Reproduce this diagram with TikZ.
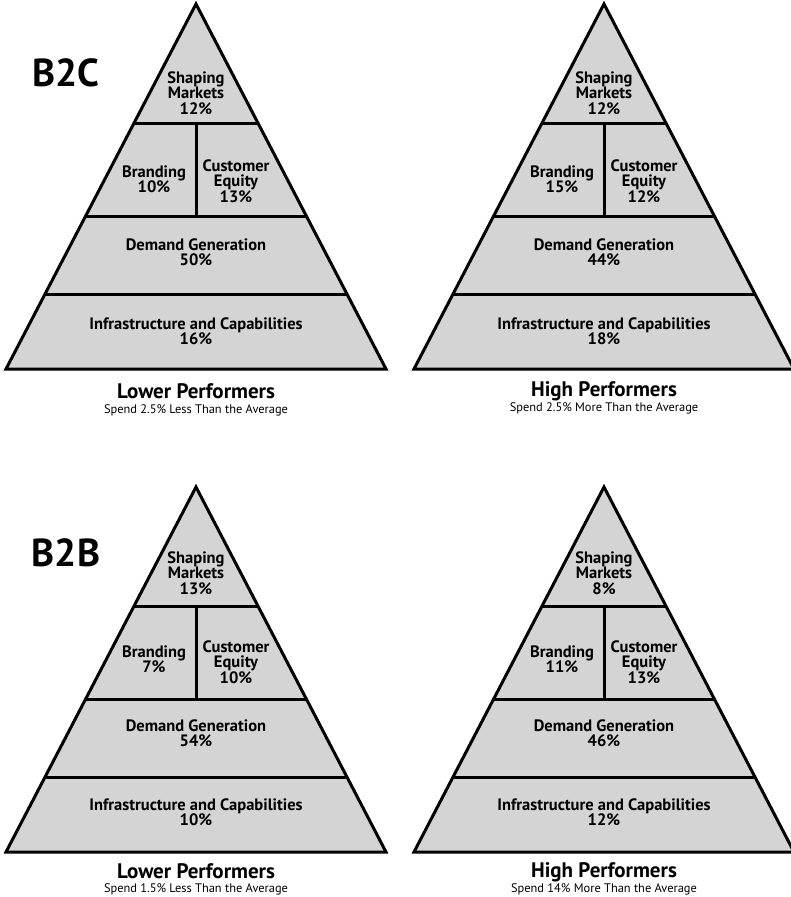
\documentclass[tikz,border=0pt]{standalone}
\usepackage{fontspec}
\setmainfont{PT Sans}
\usetikzlibrary{positioning}

\tikzset{
  pyr/.style={draw=black, fill=black!17, line width=3pt},
  sep/.style={draw=black, line width=3pt},
  lbl/.style={font=\fontsize{16.5}{15.5}\selectfont\bfseries, align=center, inner sep=0pt},
  ttl/.style={font=\fontsize{21}{22}\selectfont\bfseries, inner sep=0pt, anchor=base},
  sub/.style={font=\fontsize{12.4}{13}\selectfont, inner sep=0pt, anchor=base},
  tag/.style={font=\fontsize{39}{40}\selectfont\bfseries, inner sep=0pt}
}

\begin{document}
\begin{tikzpicture}[x=1pt,y=-1pt]
\useasboundingbox (0,0) rectangle (790,897);

% B2C, lower performers
\begin{scope}[shift={(196,4)}]
\draw[pyr] (0,0) -- (190,365) -- (-190,365) -- cycle;
\draw[sep] (-62,119) -- (62,119);
\draw[sep] (-110.4,212) -- (110.4,212);
\draw[sep] (-151,290) -- (151,290);
\draw[sep] (0,119) -- (0,212);
\node[lbl] (sm1) at (0,89) {Shaping\\Markets\\12\%};
\node[lbl] (br1) at (-42,175) {Branding\\10\%};
\node[lbl] (ce1) at (40,177) {Customer\\Equity\\13\%};
\node[lbl] (dg1) at (0,248) {Demand Generation\\50\%};
\node[lbl] (ic1) at (0,327) {Infrastructure and Capabilities\\16\%};
\node[ttl] (tt1) at (0,394) {Lower Performers};
\node[sub] (sp1) at (0,409) {Spend 2.5\% Less Than the Average};
\end{scope}
\node[tag] (b2c) at (66,73) {B2C};

% B2C, high performers
\begin{scope}[shift={(604,4)}]
\draw[pyr] (0,0) -- (190,365) -- (-190,365) -- cycle;
\draw[sep] (-62,119) -- (62,119);
\draw[sep] (-110.4,212) -- (110.4,212);
\draw[sep] (-151,290) -- (151,290);
\draw[sep] (0,119) -- (0,212);
\node[lbl] (sm2) at (0,89) {Shaping\\Markets\\12\%};
\node[lbl] (br2) at (-42,175) {Branding\\15\%};
\node[lbl] (ce2) at (40,177) {Customer\\Equity\\12\%};
\node[lbl] (dg2) at (0,248) {Demand Generation\\44\%};
\node[lbl] (ic2) at (0,327) {Infrastructure and Capabilities\\18\%};
\node[ttl] (tt2) at (0,392) {High Performers};
\node[sub] (sp2) at (0,407) {Spend 2.5\% More Than the Average};
\end{scope}

% B2B, lower performers
\begin{scope}[shift={(196,487)}]
\draw[pyr] (0,0) -- (190,365) -- (-190,365) -- cycle;
\draw[sep] (-62,119) -- (62,119);
\draw[sep] (-110.4,212) -- (110.4,212);
\draw[sep] (-151,290) -- (151,290);
\draw[sep] (0,119) -- (0,212);
\node[lbl] (sm3) at (0,86) {Shaping\\Markets\\13\%};
\node[lbl] (br3) at (-42,172) {Branding\\7\%};
\node[lbl] (ce3) at (40,175) {Customer\\Equity\\10\%};
\node[lbl] (dg3) at (0,246) {Demand Generation\\54\%};
\node[lbl] (ic3) at (0,325) {Infrastructure and Capabilities\\10\%};
\node[ttl] (tt3) at (0,391) {Lower Performers};
\node[sub] (sp3) at (0,405) {Spend 1.5\% Less Than the Average};
\end{scope}
\node[tag] (b2b) at (66,553) {B2B};

% B2B, high performers
\begin{scope}[shift={(604,487)}]
\draw[pyr] (0,0) -- (190,365) -- (-190,365) -- cycle;
\draw[sep] (-62,119) -- (62,119);
\draw[sep] (-110.4,212) -- (110.4,212);
\draw[sep] (-151,290) -- (151,290);
\draw[sep] (0,119) -- (0,212);
\node[lbl] (sm4) at (0,86) {Shaping\\Markets\\8\%};
\node[lbl] (br4) at (-42,172) {Branding\\11\%};
\node[lbl] (ce4) at (40,175) {Customer\\Equity\\13\%};
\node[lbl] (dg4) at (0,246) {Demand Generation\\46\%};
\node[lbl] (ic4) at (0,325) {Infrastructure and Capabilities\\12\%};
\node[ttl] (tt4) at (0,390) {High Performers};
\node[sub] (sp4) at (0,405) {Spend 14\% More Than the Average};
\end{scope}
\end{tikzpicture}
\end{document}
